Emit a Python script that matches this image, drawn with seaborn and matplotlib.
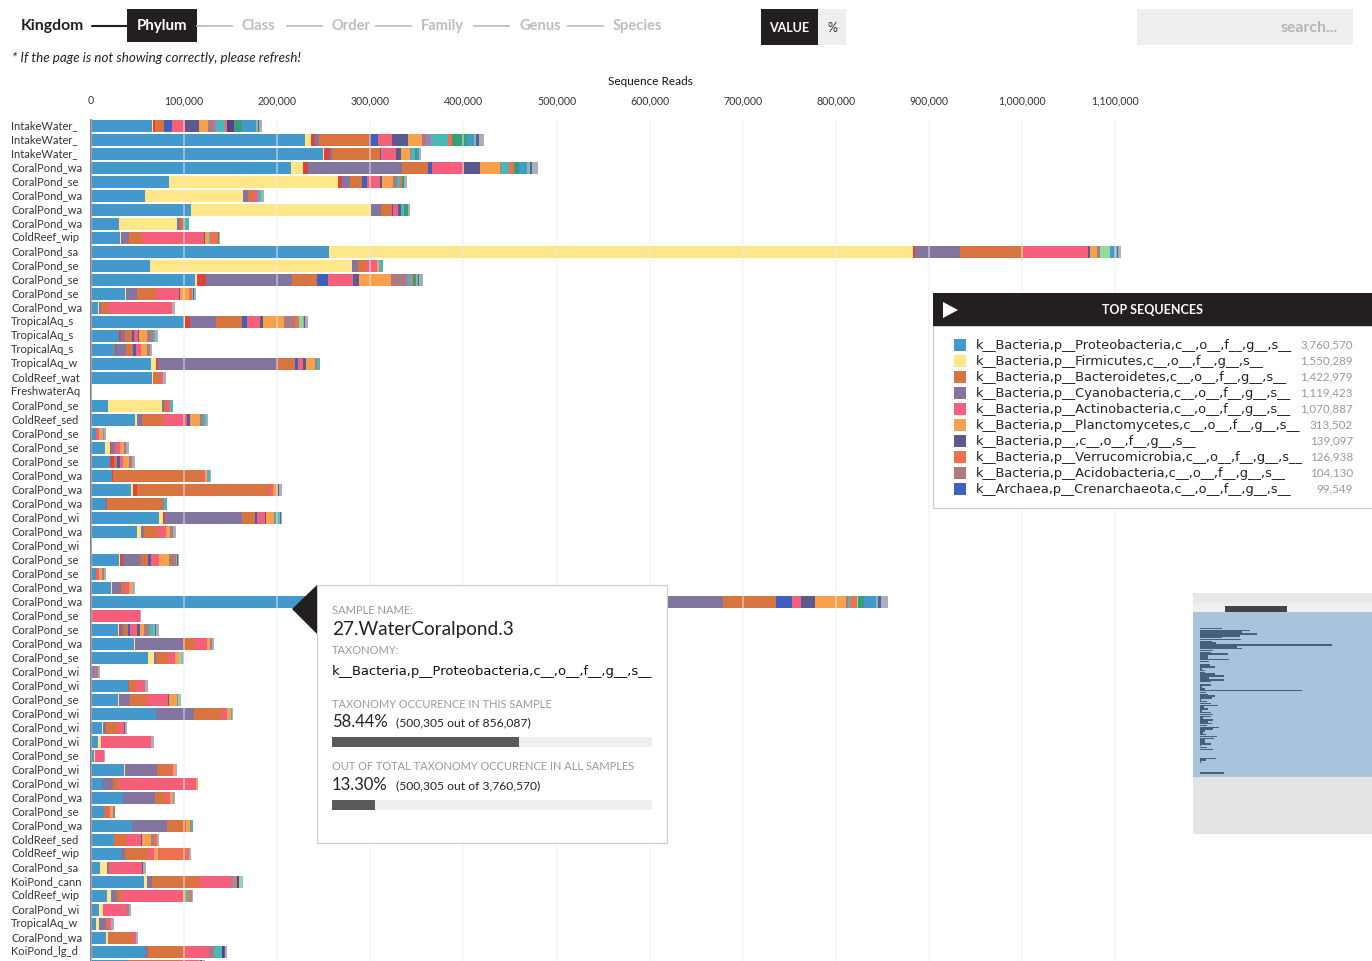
import matplotlib
matplotlib.use('Agg')
import matplotlib.pyplot as plt
from matplotlib.patches import Rectangle, Polygon
from matplotlib.transforms import ScaledTranslation
import numpy as np
import pandas as pd
import seaborn as sns

# sample labels as cut off by the page
coral_se = 'CoralPond_se'
coral_wa = 'CoralPond_wa'
coral_wi = 'CoralPond_wi'
samples = ['IntakeWater_', 'IntakeWater_', 'IntakeWater_', coral_wa, coral_se, coral_wa, coral_wa, coral_wa,
           'ColdReef_wip', 'CoralPond_sa', coral_se, coral_se, coral_se, coral_wa, 'TropicalAq_s', 'TropicalAq_s',
           'TropicalAq_s', 'TropicalAq_w', 'ColdReef_wat', 'FreshwaterAq', coral_se, 'ColdReef_sed', coral_se,
           coral_se, coral_se, coral_wa, coral_wa, coral_wa, coral_wi, coral_wa, coral_wi, coral_se, coral_se,
           coral_wa, coral_wa, coral_se, coral_se, coral_wa, coral_se, coral_wi, coral_wi, coral_se, coral_wi,
           coral_wi, coral_wi, coral_se, coral_wi, coral_wi, coral_wa, coral_se, coral_wa, 'ColdReef_sed',
           'ColdReef_wip', 'CoralPond_sa', 'KoiPond_cann', 'ColdReef_wip', coral_wi, 'TropicalAq_w', coral_wa,
           'KoiPond_lg_d']

# reads in thousands, one list per row for the big one, {row: value} for the rest
proteo = [65.5, 230.2, 248.9, 214.5, 83.8, 58.0, 107.4, 30.4, 31.1, 255.6, 63.4, 112.0, 36.5, 7.8, 99.9, 29.8, 26.1,
          64.1, 65.2, 0, 18.3, 47.6, 5.4, 15.0, 20.1, 22.6, 43.3, 15.4, 73.0, 49.7, 0, 30.4, 5.4, 21.8, 500.3, 0,
          29.0, 46.5, 61.5, 3.5, 39.4, 29.0, 70.1, 11.8, 7.8, 2.9, 35.8, 13.2, 34.7, 14.3, 44.4, 24.7, 32.5, 9.7,
          57.2, 17.2, 8.6, 5.7, 16.1, 58.3, 39.7]
firm = {0: 1.1, 1: 5.7, 2: 1.1, 3: 13.2, 4: 181.8, 5: 105.3, 6: 193.3, 7: 62.3, 8: 1.4, 9: 627.2, 10: 217, 11: 2.1,
        12: 1.4, 13: 0.8, 14: 1.4, 17: 5.7, 18: 1.1, 20: 58, 21: 2.1, 23: 5, 26: 1.8, 28: 4.3, 29: 3.5, 31: 1.1,
        33: 0.8, 34: 32.2, 36: 1.4, 37: 1.1, 38: 6.1, 41: 1.1, 43: 0.8, 44: 2.5, 45: 1.4, 46: 0.8, 53: 7.8, 54: 2.5,
        55: 4, 56: 4.3, 57: 2.9, 58: 1.8}
redx = {0: 2.1, 1: 5, 2: 6.8, 3: 5.4, 4: 4.3, 9: 2.7, 11: 9.3, 14: 5.4, 15: 2.9, 16: 1.1, 17: 2.5, 23: 1.4, 24: 4.3,
        25: 1.4, 26: 4.3, 28: 1.8, 31: 3.2, 34: 7.5, 36: 2.1}
cyano = {1: 3.5, 2: 2.5, 3: 100.6, 4: 8.6, 5: 5.4, 6: 10.4, 7: 3.2, 8: 8.3, 9: 48.3, 10: 6.1, 11: 92.4, 12: 11.8,
         13: 1.8, 14: 27.6, 15: 4.3, 16: 10.7, 17: 127.1, 20: 1.8, 21: 5.4, 23: 4.3, 27: 1.4, 28: 83, 29: 4, 31: 19,
         33: 9.7, 34: 138.6, 36: 2.9, 37: 51.6, 38: 2.1, 40: 1.4, 41: 11.8, 42: 40.1, 43: 4, 46: 34.4, 47: 10.7,
         48: 34.4, 50: 37.6, 52: 4.3, 53: 2.1, 54: 5.4, 55: 7.2, 57: 7.8, 59: 2.5}
bact = {0: 10.2, 1: 55.8, 2: 51.2, 3: 27.9, 4: 12.1, 5: 6.8, 6: 12.6, 7: 2.9, 8: 14.3, 9: 68.7, 10: 9.3, 11: 27.2,
        12: 19.7, 13: 8.3, 14: 27.9, 15: 6.8, 16: 7.2, 17: 19.7, 18: 9.3, 20: 3.2, 21: 22.2, 24: 4, 25: 96.7,
        26: 141.4, 27: 59.8, 28: 14.3, 29: 15, 31: 7.5, 32: 0.8, 33: 4, 34: 56.9, 36: 4.3, 37: 12.1, 38: 13.2,
        40: 7.8, 41: 18.6, 42: 30.1, 43: 12.6, 46: 14.3, 47: 6.4, 48: 11.8, 49: 4.3, 50: 20.4, 51: 13.2, 52: 24.4,
        54: 51.2, 55: 4.6, 57: 1.8, 58: 25.8, 59: 39.4, 60: 55.8}
cren = {0: 8.3, 1: 8.6, 2: 1.4, 3: 4.8, 4: 5.7, 6: 1.1, 11: 11.1, 14: 5.4, 15: 2.1, 16: 3.2, 17: 3.2, 24: 2.9, 28: 1.4,
        31: 3.2, 34: 17.2, 36: 2.1}
actino = {0: 14, 1: 15, 2: 15.8, 3: 33.9, 4: 14, 5: 4.3, 6: 5.4, 7: 1.4, 8: 66.3, 9: 68.7, 10: 11.8, 11: 27.6, 12: 25,
          13: 68, 14: 14, 15: 4.6, 16: 5, 17: 5.7, 18: 1.8, 20: 4, 21: 26.1, 22: 3.2, 23: 5, 24: 3.2, 25: 2.1, 26: 4.3,
          28: 9.3, 29: 8.3, 31: 8.3, 32: 2.9, 33: 4.6, 34: 9.7, 35: 52.6, 36: 7.8, 37: 13.6, 38: 6.8, 39: 1.8, 40: 9.7,
          41: 22.6, 42: 5.7, 43: 6.4, 44: 53.7, 45: 10, 46: 2.9, 47: 82.7, 48: 4, 49: 2.1, 51: 16.1, 52: 6.1, 53: 34.7,
          54: 36.2, 55: 65.5, 56: 25.5, 57: 2.9, 58: 5, 59: 26.5, 60: 20.4}
blank = {0: 15, 1: 16.4, 2: 5.7, 3: 17.2, 4: 2.1, 6: 2.5, 8: 1.4, 9: 1.5, 11: 5.7, 12: 1.1, 14: 3.2, 15: 1.1, 17: 3.2,
         21: 2.5, 28: 1.4, 34: 15, 36: 2.9, 41: 0.8, 43: 0.8, 51: 1.1, 53: 1.4}
plancto = {0: 9.3, 1: 15, 2: 8.9, 3: 21.5, 4: 11.5, 8: 4.3, 9: 7.5, 10: 1.4, 11: 34.7, 12: 9.3, 14: 22.6, 15: 8.6,
           16: 6.8, 17: 9.7, 21: 10.7, 22: 4, 23: 4.3, 24: 6.4, 25: 2.1, 26: 4.3, 28: 7.8, 29: 4.6, 31: 11.1, 32: 2.9,
           33: 3.5, 34: 33.3, 36: 4.6, 37: 2.9, 38: 4.6, 41: 8.3, 42: 4.3, 46: 2.9, 47: 1.8, 48: 2.9, 49: 2.9, 50: 3.5,
           51: 9.7, 52: 4.3, 55: 3.2}
acido = {0: 6.1, 1: 5, 2: 1.1, 3: 1.5, 4: 5, 9: 4.1, 11: 15.4, 14: 12.1, 15: 6.1, 16: 2.9, 17: 2.1, 21: 3.5, 23: 2.9,
         24: 3.5, 27: 1.8, 28: 1.8, 29: 3.2, 31: 7.8, 32: 2.1, 34: 2.1, 36: 5.4, 37: 2.1, 39: 2.5, 41: 1.4, 49: 1.8,
         50: 1.1, 51: 2.9, 52: 1.1, 56: 2.9, 59: 4.9}
lilac = {0: 2.9, 1: 5.4, 11: 3.5}
teal = {0: 9.7, 1: 17.5, 2: 4.6, 3: 8.6, 4: 2.9, 5: 2.9, 6: 3.5, 7: 5, 8: 1.1, 10: 4.3, 11: 3.2, 15: 2.9, 17: 2.9,
        20: 2.9, 21: 3.5, 22: 1.4, 25: 3.2, 27: 3.2, 28: 3.9, 34: 2.1, 36: 4.3, 42: 1.4, 48: 1.1, 50: 2.9, 54: 1.8,
        55: 3.2, 59: 8.6}
verruco = {0: 2.1, 1: 4.8, 2: 0.5, 3: 5.7, 4: 2.1, 8: 7.8, 11: 1.8, 12: 3.5, 14: 3.5, 34: 7.5, 51: 3.5, 52: 33,
           54: 2.5, 55: 3.2}
violet = {0: 7, 54: 2.5, 59: 2.5}
mint = {9: 9.7, 14: 4.3, 34: 1.1, 38: 2.9, 41: 2.1, 54: 2.5}
green = {0: 9.3, 1: 16.1, 2: 1.6, 3: 5, 4: 2.1, 6: 4.3, 8: 1.1, 11: 2.9, 34: 6.4}
blue2 = {0: 14.7, 1: 7.7, 2: 1.8, 3: 8.7, 9: 6.4, 34: 13.2}
# thin stripes at the far end of the longer bars
indigo = {0: 1.5, 1: 2.5, 3: 3, 4: 0.8, 9: 1.6, 11: 1.6, 12: 1, 14: 1.2, 26: 1.2, 28: 0.8, 31: 0.8, 34: 3.2, 36: 1.4,
          59: 0.9, 60: 1.5}
sage = {0: 1.6, 1: 2.2, 3: 2.6, 4: 1, 9: 1.6, 11: 2, 12: 1.2, 14: 1.5, 26: 1.5, 28: 0.8, 31: 0.8, 34: 2.4, 36: 1.6,
        60: 1.5}
rest = {0: 3.3, 1: 6, 2: 2.5, 3: 5.6, 4: 1.4, 5: 3.2, 6: 1.8, 8: 1.8, 9: 3.2, 11: 3.9, 12: 2.1, 13: 4, 14: 3,
        15: 2.5, 16: 2.5, 18: 2.9, 19: 1.1, 21: 2.5, 22: 2.1, 23: 2.9, 24: 2.9, 25: 0.8, 26: 3, 28: 1.3, 29: 2.9,
        30: 1.1, 31: 1.3, 32: 2.1, 33: 2.5, 34: 7.3, 35: 1.1, 36: 3.1, 37: 2.1, 38: 3.2, 39: 1.4, 40: 2.9, 41: 1.1,
        42: 0.8, 43: 2.1, 44: 3.5, 45: 0.8, 46: 1.1, 48: 1.8, 51: 1.8, 52: 1.4, 53: 3.2, 54: 1.4, 55: 1.4, 56: 1.8,
        57: 3.2, 58: 1.4, 59: 2.3, 60: 3.4}

# rows further down the page, only seen in the minimap
hidden_totals = [45, 45, 92, 8, 64, 115, 0.5, 2, 2, 2, 137, 53, 8, 1, 1, 2, 1, 2, 204, 1, 1, 1, 5, 5, 5, 3, 1, 1, 1, 1, 1]

stack = [('proteo', proteo, '#4499cc'), ('firm', firm, '#fee689'), ('redx', redx, '#dc4440'),
         ('cyano', cyano, '#8374a0'), ('bact', bact, '#d8743f'), ('cren', cren, '#4060c0'),
         ('actino', actino, '#f55f7c'), ('blank', blank, '#5a5a90'), ('plancto', plancto, '#f8a04c'),
         ('acido', acido, '#ac7b80'), ('lilac', lilac, '#a580b0'), ('teal', teal, '#48b8b8'),
         ('verruco', verruco, '#f07050'), ('violet', violet, '#5c3c90'), ('mint', mint, '#8edda0'),
         ('green', green, '#35a078'), ('blue2', blue2, '#4499cc'), ('sage', sage, '#7fbf9f'),
         ('indigo', indigo, '#5a5ea8'), ('rest', rest, '#aab0ba')]

top_names = ['k__Bacteria,p__Proteobacteria,c__,o__,f__,g__,s__', 'k__Bacteria,p__Firmicutes,c__,o__,f__,g__,s__',
             'k__Bacteria,p__Bacteroidetes,c__,o__,f__,g__,s__', 'k__Bacteria,p__Cyanobacteria,c__,o__,f__,g__,s__',
             'k__Bacteria,p__Actinobacteria,c__,o__,f__,g__,s__', 'k__Bacteria,p__Planctomycetes,c__,o__,f__,g__,s__',
             'k__Bacteria,p__,c__,o__,f__,g__,s__', 'k__Bacteria,p__Verrucomicrobia,c__,o__,f__,g__,s__',
             'k__Bacteria,p__Acidobacteria,c__,o__,f__,g__,s__', 'k__Archaea,p__Crenarchaeota,c__,o__,f__,g__,s__']
top_values = [3760570, 1550289, 1422979, 1119423, 1070887, 313502, 139097, 126938, 104130, 99549]
top_colors = ['#4499cc', '#fee689', '#d8743f', '#8374a0', '#f55f7c', '#f8a04c', '#5a5a90', '#f07050', '#ac7b80',
              '#4060c0']

# hovered sample
hover_reads = 500305
hover_sample_total = 856087
hover_taxon_total = 3760570

xtick_values = list(range(0, 1200, 100))

W, H = 1372, 961
DARK = '#231f20'
FONT = 'Lato'
TAXON_FONT = 'DejaVu Sans'

sns.set_theme(style='white')
plt.rcParams['font.family'] = [FONT, 'DejaVu Sans']

df = pd.DataFrame({'row': range(61)})
for name, values, color in stack:
    if isinstance(values, dict):
        df[name] = [values.get(i, 0) for i in range(61)]
    else:
        df[name] = values
names = [s[0] for s in stack]
cums = df[names].cumsum(axis=1)
df[[n + '_end' for n in names]] = cums.values

fig = plt.figure(figsize=(W / 100, H / 100), dpi=100)
fig.patch.set_facecolor('white')

PX_PER_K = 0.931
ax = fig.add_axes([91 / W, 0, (W - 91) / W, (H - 120) / H])

# longest first, the shorter ones paint over it
for name, values, color in reversed(stack):
    sns.barplot(data=df, y='row', x=name + '_end', orient='y', color=color, saturation=1, width=12 / 14,
                linewidth=0, errorbar=None, ax=ax)

ax.set_xlim(0, (W - 91) / PX_PER_K)
ax.set_ylim((H - 126) / 14, -6 / 14)
ax.set_xticks(xtick_values)
ax.set_xticklabels([f'{v * 1000:,}' for v in xtick_values], fontsize=7.6, color='#333333')
ax.xaxis.tick_top()
ax.xaxis.set_label_position('top')
ax.set_xlabel('Sequence Reads', fontsize=8.5, color='#111111', labelpad=7, x=(650 - 91) / (W - 91))
ax.set_ylabel('')
ax.set_yticks(range(60))
ax.set_yticklabels(samples, ha='left', fontsize=8, color='#333333')
ax.tick_params(axis='y', length=0, pad=57.6)
ax.tick_params(axis='x', length=0, pad=10)
up = ScaledTranslation(0, 1.2 / 72, fig.dpi_scale_trans)
for tl in ax.get_yticklabels():
    tl.set_transform(tl.get_transform() + up)
ax.grid(axis='x', color='#eeeeee', alpha=0.55, lw=1.2)
ax.set_axisbelow(False)
sns.despine(ax=ax, top=True, right=True, bottom=True, left=False)
ax.spines['left'].set_color('#666666')
ax.spines['left'].set_linewidth(1.2)

# page furniture, in pixel coordinates
ui = fig.add_axes([0, 0, 1, 1], zorder=5)
ui.set_xlim(0, W)
ui.set_ylim(H, 0)
ui.axis('off')
ui.patch.set_alpha(0)


def box(x0, y0, x1, y1, fc, ec='none', lw=0):
    ui.add_patch(Rectangle((x0, y0), x1 - x0, y1 - y0, fc=fc, ec=ec, lw=lw))


def label(x, y, s, size=8, color='#333333', ha='left', **kw):
    ui.text(x, y, s, fontsize=size, color=color, ha=ha, va='center', **kw)


# taxonomy level breadcrumb
label(21, 26, 'Kingdom', size=11.3, color=DARK, fontweight='bold')
ui.plot([92, 127], [26, 26], color=DARK, lw=1.5)
box(127, 9, 197, 42, DARK)
label(162, 26, 'Phylum', size=10.8, color='white', ha='center', fontweight='bold')
for x0, x1 in [(197, 232), (287, 322), (376, 411), (474, 509), (568, 603)]:
    ui.plot([x0, x1], [26, 26], color='#c4c4c4', lw=1.5)
for x, s in [(242, 'Class'), (332, 'Order'), (421, 'Family'), (519, 'Genus'), (613, 'Species')]:
    label(x, 26, s, size=10.5, color='#bdbdbd', fontweight='bold')
label(12, 58, '* If the page is not showing correctly, please refresh!', size=9.6, color='#222222', style='italic')

box(761, 9, 818, 45, DARK)
box(818, 9, 846, 45, '#eeeeee')
label(789.5, 27.5, 'VALUE', size=9, color='white', ha='center', fontweight='bold')
label(832, 27.5, '%', size=9, color='#333333', ha='center')
box(1137, 9, 1353, 45, '#eeeeee')
label(1338, 27.5, 'search...', size=11.3, color='#b5b5b5', ha='right', fontweight='bold')

# top sequences panel
box(933, 326, 1380, 508, 'white', ec='#cccccc', lw=0.8)
box(933, 293, 1372, 326, DARK)
ui.add_patch(Polygon([(943, 302), (958, 310), (943, 318)], fc='white', ec='none'))
label(1153, 309.5, 'TOP SEQUENCES', size=9, color='white', ha='center', fontweight='bold')
for i, (name, value, color) in enumerate(zip(top_names, top_values, top_colors)):
    y = 345 + 16 * i
    box(954, y - 6, 966, y + 6, color)
    label(976, y, name, size=9.35, color='#222222', family=[TAXON_FONT])
    label(1353, y, f'{value:,}', size=8.4, color='#999999', ha='right')

# hover card
box(317, 585, 667, 843, 'white', ec='#cccccc', lw=0.8)
ui.add_patch(Polygon([(292, 609), (317, 585), (317, 634)], fc=DARK, ec='none'))
label(332, 610, 'SAMPLE NAME:', size=8, color='#999999')
label(332, 629.5, '27.WaterCoralpond.3', size=13.7, color='#222222')
label(332, 651, 'TAXONOMY:', size=8, color='#999999')
label(332, 671, top_names[0], size=9.45, color='#111111', family=[TAXON_FONT])
label(332, 704, 'TAXONOMY OCCURENCE IN THIS SAMPLE', size=7.95, color='#999999')
share_sample = hover_reads / hover_sample_total
label(332, 722, f'{share_sample * 100:.2f}%', size=12, color='#222222')
label(396, 723, f'({hover_reads:,} out of {hover_sample_total:,})', size=8.7, color='#222222')
box(332, 737, 652, 747, '#eeeeee')
box(332, 737, 332 + 320 * share_sample, 747, '#58595b')
label(332, 767, 'OUT OF TOTAL TAXONOMY OCCURENCE IN ALL SAMPLES', size=7.9, color='#999999')
share_taxon = hover_reads / hover_taxon_total
label(332, 785, f'{share_taxon * 100:.2f}%', size=12, color='#222222')
label(396, 786, f'({hover_reads:,} out of {hover_taxon_total:,})', size=8.7, color='#222222')
box(332, 800, 652, 810, '#eeeeee')
box(332, 800, 332 + 320 * share_taxon, 810, '#58595b')

# minimap background, the bars come from the same totals
box(1193, 593, 1372, 834, '#e4e4e4')
box(1193, 593, 1372, 603, '#e8e8e8')
box(1193, 603, 1372, 612, '#eeeeee')
box(1225, 606, 1287, 612, '#444444')
box(1193, 612, 1372, 777, '#a9c3dc')

totals = list(df[names].sum(axis=1)) + hidden_totals
mini = pd.DataFrame({'row': range(len(totals)), 'total': totals})
mini['tone'] = ['in' if i < 82 else 'out' for i in mini['row']]
MINI_X, MINI_PITCH, MINI_Y0 = 1199.7, 1.83, 628.5
mini_top, mini_bottom = 612, 834
mini_ax = fig.add_axes([MINI_X / W, (H - mini_bottom) / H, (W - MINI_X) / W, (mini_bottom - mini_top) / H], zorder=6)
mini_ax.patch.set_alpha(0)
sns.barplot(data=mini, y='row', x='total', hue='tone', orient='y', palette={'in': '#45607c', 'out': '#999999'},
            saturation=1, dodge=False, width=0.85, linewidth=0, errorbar=None, legend=False, ax=mini_ax)
mini_ax.set_xlim(0, (W - MINI_X) / 0.1195)
mini_ax.set_ylim((mini_bottom - MINI_Y0) / MINI_PITCH, (mini_top - MINI_Y0) / MINI_PITCH)
mini_ax.axis('off')

fig.savefig('out.png', dpi=100)
